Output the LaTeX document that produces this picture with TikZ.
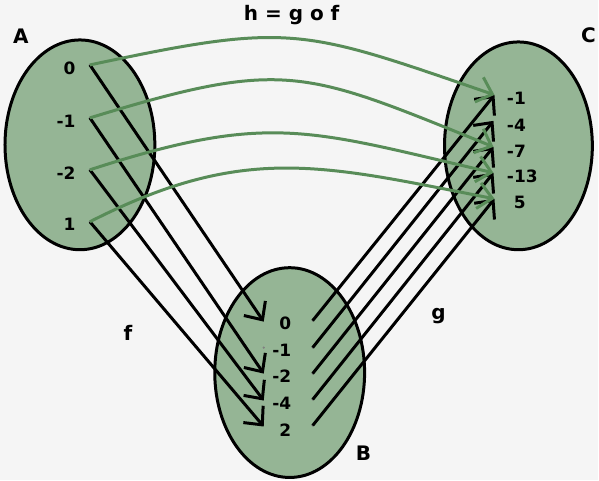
\documentclass[tikz,border=0pt]{standalone}
\usepackage{fontspec}
\setmainfont{DejaVu Sans}
\usepackage{tikz}
\usetikzlibrary{arrows.meta}

\definecolor{setfill}{RGB}{149,181,149}
\definecolor{hgreen}{RGB}{88,140,88}
\definecolor{bgcol}{RGB}{245,245,245}

\begin{document}
\begin{tikzpicture}[x=1pt,y=1pt,
    numstyle/.style={font=\fontsize{17}{20}\selectfont\bfseries},
    namestyle/.style={font=\fontsize{20}{23}\selectfont\bfseries},
    setstyle/.style={draw=black,line width=3pt,fill=setfill},
    dotstyle/.style={fill=gray},
    farrow/.style={line width=3pt,-{Straight Barb[length=14pt,width=26pt]}},
    harrow/.style={hgreen,line width=3pt,-{Straight Barb[length=14pt,width=26pt]}}]

    \fill[bgcol] (0,0) rectangle (599,481);

    % the three sets
    \draw[setstyle] (80,336) ellipse [x radius=75, y radius=105];
    \draw[setstyle] (290,108) ellipse [x radius=75, y radius=105];
    \draw[setstyle] (519,335) ellipse [x radius=74, y radius=104];

    % points of A
    \coordinate (a0) at (90,416);
    \coordinate (am1) at (90,363);
    \coordinate (am2) at (90,311);
    \coordinate (a1) at (90,259);

    % points of B (left = in, right = out)
    \coordinate (bl0) at (264,159);
    \coordinate (blm1) at (264,133);
    \coordinate (blm2) at (264,107);
    \coordinate (blm4) at (264,80);
    \coordinate (bl2) at (264,54);
    \coordinate (br0) at (313,160);
    \coordinate (brm1) at (313,133);
    \coordinate (brm2) at (313,107);
    \coordinate (brm4) at (313,81);
    \coordinate (br2) at (313,55);

    % points of C
    \coordinate (cm1) at (495,386);
    \coordinate (cm4) at (494,360);
    \coordinate (cm7) at (494,334);
    \coordinate (cm13) at (494,308);
    \coordinate (c5) at (495,282);

    \fill[dotstyle] (a0) circle [radius=1.2];
    \fill[dotstyle] (am1) circle [radius=1.2];
    \fill[dotstyle] (am2) circle [radius=1.2];
    \fill[dotstyle] (a1) circle [radius=1.2];
    \fill[dotstyle] (blm1) circle [radius=1.2];
    \fill[dotstyle] (br0) circle [radius=1.2];
    \fill[dotstyle] (brm1) circle [radius=1.2];
    \fill[dotstyle] (brm2) circle [radius=1.2];
    \fill[dotstyle] (brm4) circle [radius=1.2];
    \fill[dotstyle] (br2) circle [radius=1.2];

    % f
    \draw[farrow] (a0) -- (bl0);
    \draw[farrow] (am1) -- (blm2);
    \draw[farrow] (am2) -- (blm4);
    \draw[farrow] (a1) -- (bl2);

    % g
    \draw[farrow] (br0) -- (cm1);
    \draw[farrow] (brm1) -- (cm4);
    \draw[farrow] (brm2) -- (cm7);
    \draw[farrow] (brm4) -- (cm13);
    \draw[farrow] (br2) -- (c5);

    % h = g o f
    \draw[harrow] (a0) to[out=12,in=161,looseness=1.3] (cm1);
    \draw[harrow] (am1) to[out=17,in=158,looseness=1.3] (cm7);
    \draw[harrow] (am2) to[out=18,in=167,looseness=1.2] (cm13);
    \draw[harrow] (a1) to[out=27,in=169,looseness=1.1] (c5);

    \node[numstyle] [anchor=east] (la0) at (79,413) {0};
    \node[numstyle] [anchor=east] (lam1) at (79,360) {-1};
    \node[numstyle] [anchor=east] (lam2) at (79,308) {-2};
    \node[numstyle] [anchor=east] (la1) at (79,256) {1};

    \node[numstyle] [anchor=east] (lb0) at (295,157) {0};
    \node[numstyle] [anchor=east] (lbm1) at (295,130) {-1};
    \node[numstyle] [anchor=east] (lbm2) at (295,104) {-2};
    \node[numstyle] [anchor=east] (lbm4) at (295,77) {-4};
    \node[numstyle] [anchor=east] (lb2) at (295,50) {2};

    \node[numstyle] [anchor=west] (lcm1) at (504,383) {-1};
    \node[numstyle] [anchor=west] (lcm4) at (504,356) {-4};
    \node[numstyle] [anchor=west] (lcm7) at (504,330) {-7};
    \node[numstyle] [anchor=west] (lcm13) at (504,304) {-13};
    \node[numstyle] [anchor=west] (lc5) at (511,278) {5};

    \node[namestyle] (setA) at (21,445) {A};
    \node[namestyle] (setB) at (364,27) {B};
    \node[namestyle] (setC) at (589,446) {C};
    \node[namestyle] (fname) at (128,148) {f};
    \node[namestyle] (gname) at (439,165) {g};
    \node[namestyle] (hname) at (292,466) {h = g o f};

\end{tikzpicture}
\end{document}
